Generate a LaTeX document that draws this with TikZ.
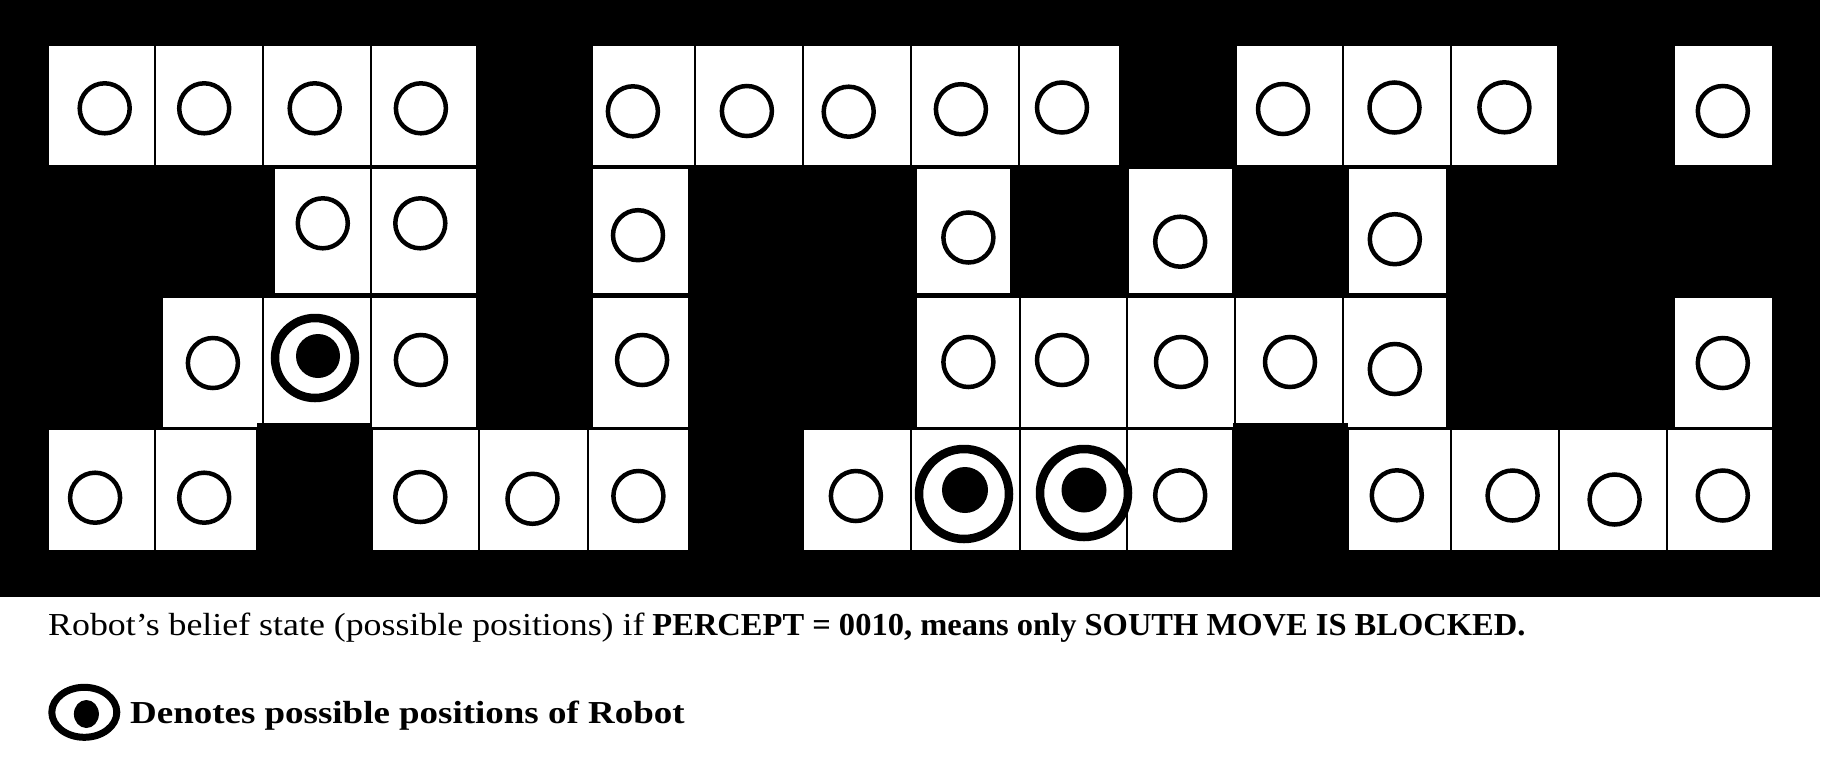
\documentclass[tikz,border=0pt]{standalone}
\usepackage{fontspec}
\usepackage{graphicx}
\setmainfont{Liberation Serif}
\begin{document}
\begin{tikzpicture}[x=1pt,y=-1pt,
  cellbox/.style={fill=white,draw=black,line width=1.4pt},
  ring/.style={draw=black,line width=4.5pt},
  bullring/.style={draw=black,line width=8.5pt},
  bulldot/.style={fill=black},
  caption/.style={anchor=base west,inner sep=0pt,font=\fontsize{32}{38}\selectfont}]
\useasboundingbox (0,0) rectangle (1824,756);
\fill[black] (0,0) rectangle (1820,597);
% row 1
\foreach \a/\b in {48/155,155/263,263/371,371/477,592/695,695/803,803/911,911/1019,1019/1120,1236/1343,1343/1451,1451/1558,1674/1773}
  \draw[cellbox] (\a,45) rectangle (\b,166);
% row 2
\foreach \a/\b in {274/371,371/477,592/689,916/1011,1128/1233,1348/1447}
  \draw[cellbox] (\a,168) rectangle (\b,294);
% row 3
\foreach \a/\b in {162/263,263/371,371/477,592/689,916/1020,1020/1127,1127/1235,1235/1343,1343/1447,1674/1773}
  \draw[cellbox] (\a,297) rectangle (\b,428);
% row 4
\foreach \a/\b in {48/155,155/257,372/479,479/588,588/689,803/911,911/1020,1020/1127,1127/1233,1348/1451,1451/1559,1559/1667,1667/1773}
  \draw[cellbox] (\a,429) rectangle (\b,551);
% black notches
\fill[black] (257,423) rectangle (372,429);
\fill[black] (1233,423) rectangle (1348,429);
% rings
\foreach \x/\y in {104.7/108.3,204.2/108.3,314.7/108.3,420.9/108.3,632.9/111.3,746.9/111,848.7/111.7,960.9/109.2,1062/107.5,1283/109,1394.5/107.5,1504.4/107.3,1722.8/111,
  322.8/223.3,420.3/223.3,638/235.2,968.4/237.5,1180.2/241.7,1394.8/239.2,
  212.9/363,420.9/360,642.1/360,968.4/362,1062/360,1181/362,1290/362,1394.8/369,1722.8/363,
  95.1/497.7,204.2/497.7,420.3/497,532.5/498.8,638.4/496,855.9/496,1180.2/495.3,1396.8/495.3,1512.6/495.5,1614.6/499.5,1722.8/495.5}
  \draw[ring] (\x,\y) circle[radius=25pt];
% possible positions
\draw[bullring] (315,358) circle[radius=40pt];
\fill[bulldot] (318,356) circle[radius=22pt];
\draw[bullring] (964,494) circle[radius=45pt];
\fill[bulldot] (965,490) circle[radius=23pt];
\draw[bullring] (1084,493) circle[radius=44pt];
\fill[bulldot] (1084,490) circle[radius=22.5pt];
% caption
\node[caption] (cap) at (48,635) {\scalebox{1.12}[1]{Robot’s belief state (possible positions) if} \scalebox{1.016}[1]{\textbf{PERCEPT = 0010, means only SOUTH MOVE IS BLOCKED.}}};
% legend
\draw[draw=black,line width=7pt] (84.3,712.3) ellipse[x radius=32.5pt,y radius=25pt];
\fill[black] (86.4,714) ellipse[x radius=12.5pt,y radius=14pt];
\node[caption] (leg) at (130,723) {\scalebox{1.155}[1]{\textbf{Denotes possible positions of Robot}}};
\end{tikzpicture}
\end{document}
